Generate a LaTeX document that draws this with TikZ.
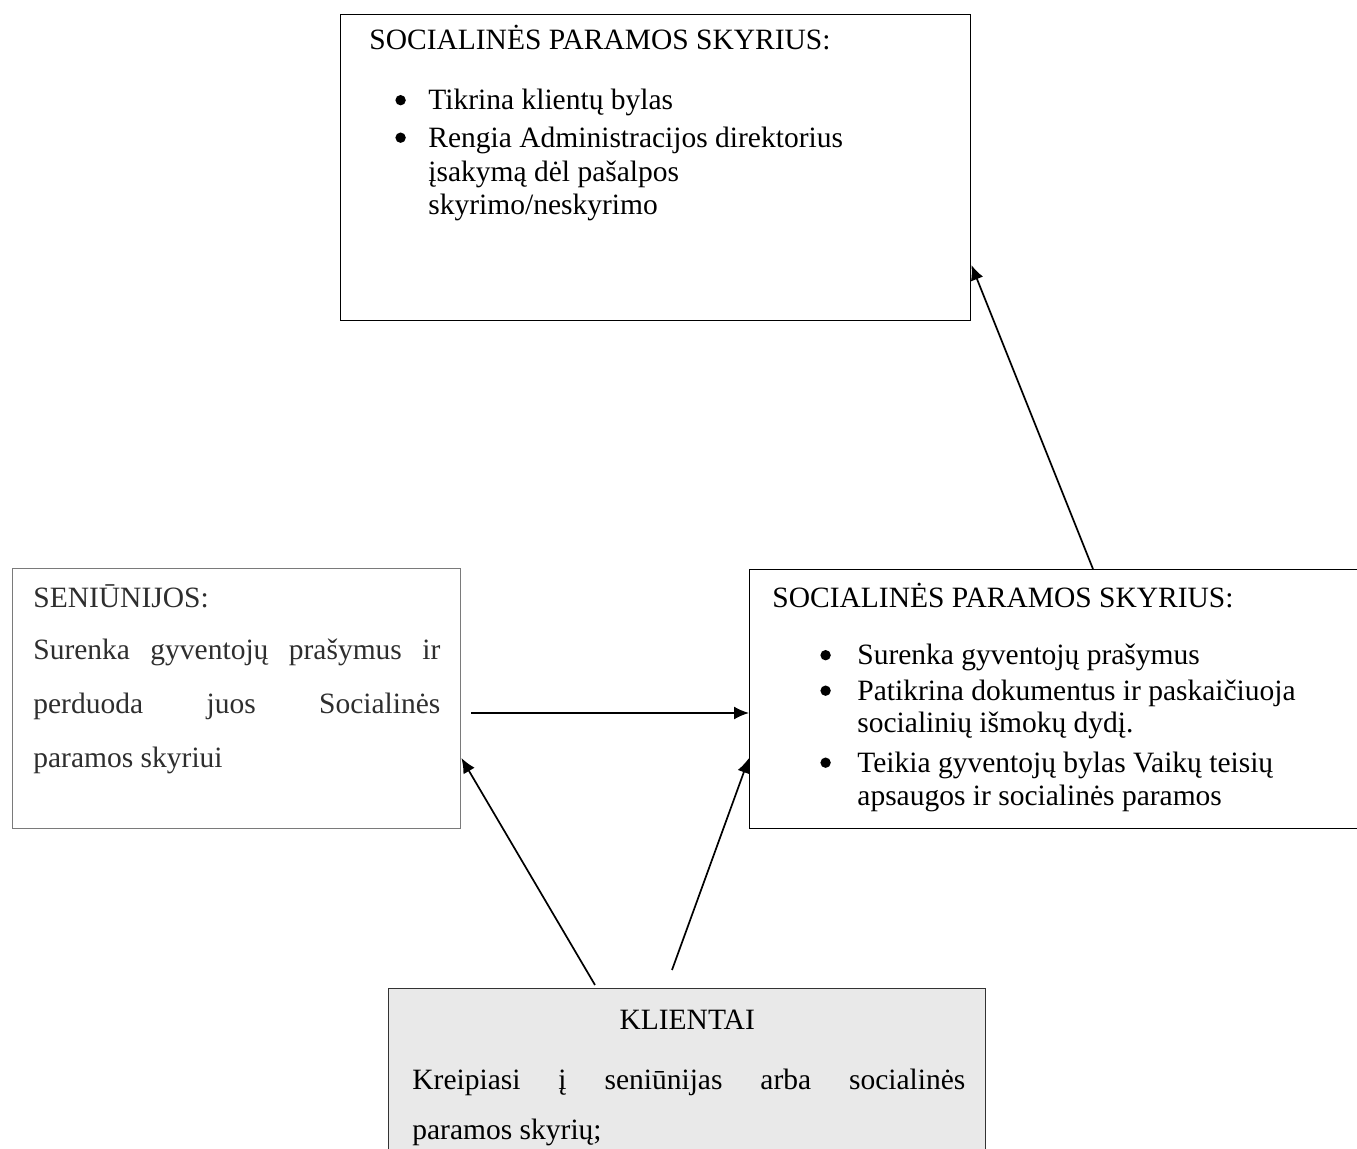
\documentclass[tikz,border=0pt]{standalone}
\usepackage{fontspec}
\setmainfont{Liberation Serif}
\usetikzlibrary{arrows.meta,calc,positioning}

\definecolor{scangrey}{HTML}{7A7A7A}
\definecolor{scantext}{HTML}{2E2E2E}
\definecolor{clientfill}{HTML}{E9E9E9}

\newcommand{\dfont}{\fontsize{14.75}{17.25}\selectfont}
\newcommand{\blt}{\tikz[baseline=0pt]\fill (2.6pt,4.9pt) circle (2.6pt);}

\begin{document}
\begin{tikzpicture}[x=0.5pt,y=-0.5pt,
  box/.style={draw,line width=0.7pt,inner sep=0,anchor=north west},
  txt/.style={inner sep=0,anchor=base west,font=\dfont},
  link/.style={-{Latex[length=7.5pt,width=6.5pt]},line width=0.85pt}]
  \useasboundingbox (0,0) rectangle (1357,1149);
  % boxes
  \node[box,minimum width=315pt,minimum height=153pt] (tbox) at (340,14) {};
  \node[box,draw=scangrey,minimum width=224pt,minimum height=130pt] (lbox) at (12,568) {};
  \node[box,minimum width=312pt,minimum height=129.5pt] (rbox) at (749,569) {};
  \node[box,fill=clientfill,draw=black!80,minimum width=298.5pt,minimum height=95pt] (bbox) at (388,988) {};
  % top box
  \node[txt] (ttitle) at ($(tbox.north west)+(29,36)$) {SOCIALINĖS PARAMOS SKYRIUS:};
  \node[txt] (tlist) at ($(tbox.north west)+(55,96)$) {\begin{tabular}[t]{@{}p{16.5pt}@{}l@{}}
    \blt & Tikrina klientų bylas\\[1.5pt]
    \blt & Rengia Administracijos direktorius\\
    & įsakymą dėl pašalpos\\[-1pt]
    & skyrimo/neskyrimo
  \end{tabular}};
  % left box
  \node[txt,text=scantext] (ltitle) at ($(lbox.north west)+(21,40)$) {SENIŪNIJOS:};
  \node[txt,text=scantext,text width=203.5pt,align=justify,font=\fontsize{14.75}{27}\selectfont]
    (ltext) at ($(lbox.north west)+(21,92)$)
    {Surenka gyventojų prašymus ir\linebreak perduoda juos Socialinės\linebreak paramos skyriui};
  % right box
  \node[txt] (rtitle) at ($(rbox.north west)+(23,39)$) {SOCIALINĖS PARAMOS SKYRIUS:};
  \node[txt] (rlist) at ($(rbox.north west)+(71,96)$) {\begin{tabular}[t]{@{}p{18.5pt}@{}l@{}}
    \blt & Surenka gyventojų prašymus\\[0.5pt]
    \blt & Patikrina dokumentus ir paskaičiuoja\\[-1pt]
    & socialinių išmokų dydį.\\[2.5pt]
    \blt & Teikia gyventojų bylas Vaikų teisių\\[-0.5pt]
    & apsaugos ir socialinės paramos
  \end{tabular}};
  % bottom box
  \node[txt,anchor=base] (btitle) at ($(bbox.north)+(0,42)$) {KLIENTAI};
  \node[txt,text width=276.5pt,align=justify,font=\fontsize{14.75}{25}\selectfont]
    (btext) at ($(bbox.north west)+(24,102)$)
    {Kreipiasi į seniūnijas arba socialinės\linebreak paramos skyrių;};
  % arrows
  \draw[link] ($(rbox.north west)+(344,0)$) -- ($(tbox.north east)+(0,251)$);
  \draw[link] ($(lbox.north east)+(10,145)$) -- ($(rbox.north west)+(0,144)$);
  \draw[link] ($(bbox.north west)+(207,-3)$) -- ($(lbox.north east)+(0,190)$);
  \draw[link] ($(bbox.north west)+(284,-18)$) -- ($(rbox.north west)+(0,189)$);
\end{tikzpicture}
\end{document}
